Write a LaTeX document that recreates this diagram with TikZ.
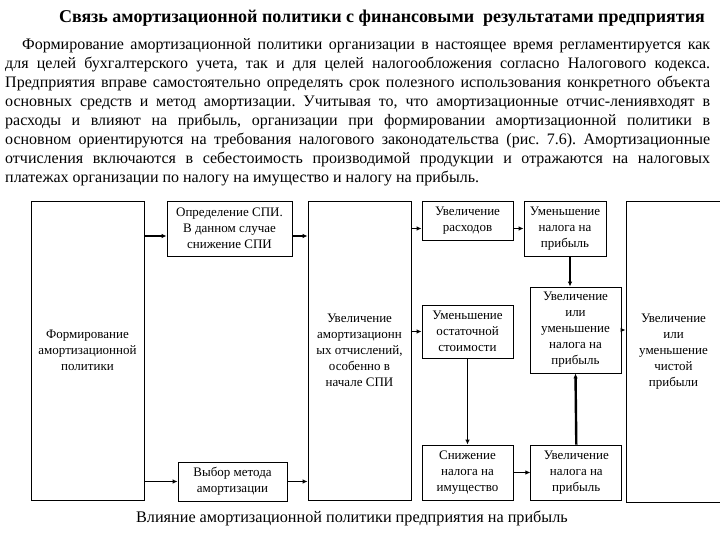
\documentclass[tikz,border=0pt]{standalone}
\usepackage{fontspec}
\setmainfont{Liberation Serif}
\usetikzlibrary{arrows.meta, positioning}

\tikzset{
  blok/.style={draw, line width=0.8pt, align=center, inner sep=1pt,
    font=\fontsize{13}{16}\selectfont},
  strelka/.style={line width=1.4pt, -{Latex[length=5pt,width=4.5pt]}},
}

\begin{document}
\begin{tikzpicture}[x=1pt, y=-1pt]
  \useasboundingbox (0,0) rectangle (720,540);

  \node[font=\fontsize{18}{20}\selectfont\bfseries] (title) at (382,18)
    {Связь амортизационной политики с финансовыми\ \ результатами предприятия};
  \node[anchor=north west, text width=705pt, align=justify, inner sep=0pt,
    font=\fontsize{16}{19}\selectfont] (text) at (5,38)
    {\frenchspacing\hyphenpenalty=10000\tolerance=9999\hspace*{17pt}Формирование амортизационной политики организации в настоящее время регламентируется как\linebreak
    для целей бухгалтерского учета, так и для целей налогообложения согласно Налогового кодекса.\linebreak
    Предприятия вправе самостоятельно определять срок полезного использования конкретного объекта\linebreak
    основных средств и метод амортизации. Учитывая то, что амортизационные отчис-лениявходят в\linebreak
    расходы и влияют на прибыль, организации при формировании амортизационной политики в\linebreak
    основном ориентируются на требования налогового законодательства (рис. 7.6). Амортизационные\linebreak
    отчисления включаются в себестоимость производимой продукции и отражаются на налоговых\linebreak
    платежах организации по налогу на имущество и налогу на прибыль.};

  \node[blok, minimum width=113pt, minimum height=299pt] (form) at (87.5,350.5)
    {Формирование\\амортизационной\\политики};
  \node[blok, minimum width=125pt, minimum height=55pt] (spi) at (229.5,228.5)
    {Определение СПИ.\\В данном случае\\снижение СПИ};
  \node[blok, minimum width=109pt, minimum height=39pt] (vybor) at (232.5,481.5)
    {Выбор метода\\амортизации};
  \node[blok, minimum width=103pt, minimum height=299pt] (amort) at (359.5,350.5)
    {Увеличение\\амортизационн\\ых отчислений,\\особенно в\\начале СПИ};

  \node[blok, minimum width=91pt, minimum height=39pt] (rash) at (467.5,220.5)
    {Увеличение\\расходов};
  \node[blok, minimum width=82pt, minimum height=55pt] (umnal) at (565,228.5)
    {Уменьшение\\налога на\\прибыль};
  \node[blok, minimum width=91pt, minimum height=53pt] (ost) at (467.5,331.5)
    {Уменьшение\\остаточной\\стоимости};
  \node[blok, minimum width=91pt, minimum height=86pt] (ilinal) at (575.5,330)
    {Увеличение\\или\\уменьшение\\налога на\\прибыль};
  \node[blok, minimum width=91pt, minimum height=55pt] (imush) at (467.5,472.5)
    {Снижение\\налога на\\имущество};
  \node[blok, minimum width=91pt, minimum height=55pt, right=17pt of imush] (uvnal)
    {Увеличение\\налога на\\прибыль};
  \node[blok, minimum width=95pt, minimum height=301pt] (chist) at (673.5,351.5)
    {Увеличение\\или\\уменьшение\\чистой\\прибыли};

  \node[font=\fontsize{16.2}{18}\selectfont] (podpis) at (352,518)
    {Влияние амортизационной политики предприятия на прибыль};

  \coordinate (spiin) at ([yshift=-7.5pt]spi.west);
  \coordinate (spiout) at ([yshift=-7.5pt]spi.east);
  \coordinate (umnalout) at ([xshift=5pt]umnal.south);

  \draw[strelka] (form.east |- spiin) -- (spiin);
  \draw[strelka] (spiout) -- (amort.west |- spiout);
  \draw[strelka] (form.east |- vybor.west) -- (vybor.west);
  \draw[strelka] (vybor.east) -- (vybor.east -| amort.west);

  \draw[strelka] (amort.east |- umnal.west) -- (rash.west |- umnal.west);
  \draw[strelka] (rash.east |- umnal.west) -- (umnal.west);
  \draw[strelka] (amort.east |- ost.west) -- (ost.west);
  \draw[strelka] (umnalout) -- (ilinal.north -| umnalout);
  \draw[strelka] (ilinal.east) -- (ilinal.east -| chist.west);
  \draw[strelka] (ost.south) -- (imush.north);
  \draw[strelka] (imush.east) -- (uvnal.west);
  \draw[strelka, line width=2.4pt] (uvnal.north) -- (ilinal.south);
\end{tikzpicture}
\end{document}
